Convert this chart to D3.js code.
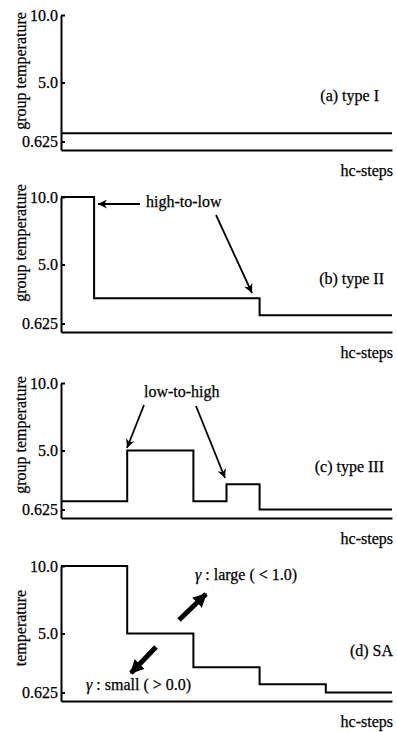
<!DOCTYPE html>
<html>
<head>
<meta charset="utf-8">
<script src="https://cdn.jsdelivr.net/npm/d3@7"></script>
<style>
  body { margin: 0; background: #fff; }
  svg { display: block; font-family: "Liberation Serif", "DejaVu Serif", serif; }
  text { fill: #000; stroke: #000; stroke-width: 0.25px; }
</style>
</head>
<body>
<div id="chart"></div>
<script>
// step boundaries (hc-steps) and the temperature held on each step
const stepsA = [0, 100];
const tempA = [1.25];
const stepsB = [0, 10, 60, 100];
const tempB = [10, 2.5, 1.25];
const stepsC = [0, 20, 40, 50, 60, 100];
const tempC = [1.25, 5, 1.25, 2.5, 0.625];
const stepsD = [0, 20, 40, 60, 80, 100];
const tempD = [10, 5, 2.5, 1.25, 0.625];

const yTicks = [0.625, 5.0, 10.0];
const yTickLabels = ['0.625', '5.0', '10.0'];
const panelTitles = ['(a) type I', '(b) type II', '(c) type III', '(d) SA'];
const yTitles = ['group temperature', 'group temperature', 'group temperature', 'temperature'];
const xTitle = 'hc-steps';

const W = 397, H = 732;
const left = 61, right = 392, ph = 135;
const tops = [15, 197, 383, 566];

const svg = d3.select('#chart').append('svg')
  .attr('width', W)
  .attr('height', H);

const defs = svg.append('defs');
defs.append('marker')
  .attr('id', 'thin')
  .attr('viewBox', '0 0 10 10')
  .attr('refX', 10).attr('refY', 5)
  .attr('markerWidth', 11).attr('markerHeight', 9)
  .attr('markerUnits', 'userSpaceOnUse')
  .attr('orient', 'auto')
  .append('path')
  .attr('d', 'M0,0 L10,5 L0,10 L3,5 Z')
  .attr('fill', '#000');
defs.append('marker')
  .attr('id', 'thick')
  .attr('viewBox', '0 0 10 10')
  .attr('refX', 9).attr('refY', 5)
  .attr('markerWidth', 14).attr('markerHeight', 16)
  .attr('markerUnits', 'userSpaceOnUse')
  .attr('orient', 'auto')
  .append('path')
  .attr('d', 'M0,0 L10,5 L0,10 Z')
  .attr('fill', '#000');

const x = d3.scaleLinear().domain([0, 100]).range([left, right]);
const y = d3.scaleLinear().domain([0, 10]).range([ph, 0]);

const line = d3.line()
  .x(d => x(d.s))
  .y(d => y(d.t))
  .curve(d3.curveStepAfter);

const series = [[stepsA, tempA], [stepsB, tempB], [stepsC, tempC], [stepsD, tempD]];

// title offsets (right edge x, centre y in panel) and y-title centre
const titlePos = [[379, 82], [384, 83], [384, 85], [393, 86]];
const yTitleMid = [56, 46, 52, 62];

series.forEach(([steps, temps], i) => {
  const g = svg.append('g').attr('transform', `translate(0,${tops[i]})`);

  const yAxis = g.append('g')
    .attr('transform', `translate(${left},0)`)
    .call(d3.axisLeft(y)
      .tickValues(yTicks)
      .tickFormat((d, k) => yTickLabels[k])
      .tickSizeInner(-4)
      .tickSizeOuter(0)
      .tickPadding(3));
  yAxis.select('.domain').attr('stroke', '#000').attr('stroke-width', 2);
  yAxis.selectAll('.tick line').attr('stroke', '#000').attr('stroke-width', 2);
  yAxis.selectAll('.tick text')
    .attr('fill', '#000')
    .style('font-family', '"Liberation Serif", serif')
    .style('font-size', '16px');

  const xAxis = g.append('g')
    .attr('transform', `translate(0,${ph})`)
    .call(d3.axisBottom(x).tickValues([]).tickSizeOuter(0));
  xAxis.select('.domain').attr('stroke', '#000').attr('stroke-width', 2);

  const pts = steps.map((s, k) => ({ s, t: temps[Math.min(k, temps.length - 1)] }));
  g.append('path')
    .datum(pts)
    .attr('fill', 'none')
    .attr('stroke', '#000')
    .attr('stroke-width', 2)
    .attr('d', line);

  g.append('text')
    .attr('x', titlePos[i][0])
    .attr('y', titlePos[i][1])
    .attr('text-anchor', 'end')
    .attr('dominant-baseline', 'middle')
    .style('font-size', '16px')
    .text(panelTitles[i]);

  g.append('text')
    .attr('x', right + 1)
    .attr('y', ph + 26)
    .attr('text-anchor', 'end')
    .style('font-size', '16px')
    .text(xTitle);

  g.append('text')
    .attr('transform', `translate(26,${yTitleMid[i]}) rotate(-90)`)
    .attr('text-anchor', 'middle')
    .style('font-size', '16px')
    .text(yTitles[i]);
});

// annotations
function arrow(g, x1, y1, x2, y2, thick) {
  g.append('line')
    .attr('x1', x1).attr('y1', y1).attr('x2', x2).attr('y2', y2)
    .attr('stroke', '#000')
    .attr('stroke-width', thick ? 5 : 1.8)
    .attr('marker-end', thick ? 'url(#thick)' : 'url(#thin)');
}
function note(g, tx, ty, str) {
  return g.append('text')
    .attr('x', tx).attr('y', ty)
    .attr('dominant-baseline', 'middle')
    .style('font-size', '16px')
    .text(str);
}

const gb = svg.append('g').attr('transform', `translate(0,${tops[1]})`);
note(gb, 146, 6, 'high-to-low');
arrow(gb, 140, 7, 98, 7, false);
arrow(gb, 216, 18, 252, 96, false);

const gc = svg.append('g').attr('transform', `translate(0,${tops[2]})`);
note(gc, 144, 10, 'low-to-high');
arrow(gc, 144, 22, 127, 65, false);
arrow(gc, 196, 23, 225, 95, false);

const gd = svg.append('g').attr('transform', `translate(0,${tops[3]})`);
const t1 = note(gd, 195, 10, '');
t1.append('tspan').style('font-style', 'italic').text('γ');
t1.append('tspan').text(' : large ( < 1.0)');
arrow(gd, 179, 54, 206, 28, true);
const t2 = note(gd, 86, 120, '');
t2.append('tspan').style('font-style', 'italic').text('γ');
t2.append('tspan').text(' : small ( > 0.0)');
arrow(gd, 156, 81, 131, 107, true);
</script>
</body>
</html>
